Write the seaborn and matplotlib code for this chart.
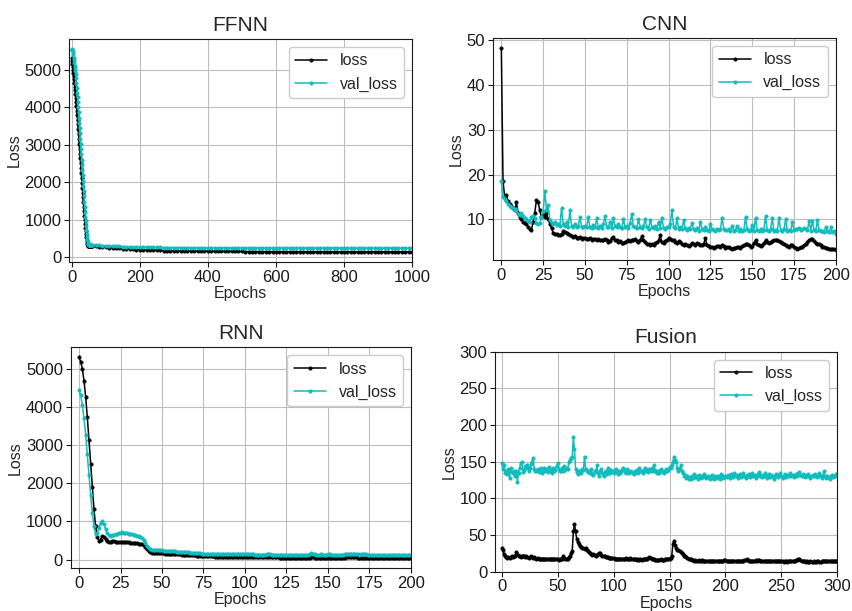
import matplotlib
matplotlib.use("Agg")
import matplotlib.pyplot as plt
import seaborn as sns

# ---------------- data ----------------
ffnn_epochs = list(range(0, 61)) + list(range(70, 1001, 10))
ffnn_loss = [5300, 5230, 5150, 5070, 4990, 4910, 4830, 4740, 4650, 4550,
             4450, 4350, 4240, 4130, 4020, 3900, 3780, 3660, 3540, 3410,
             3280, 3150, 3020, 2890, 2760, 2630, 2500, 2370, 2240, 2110,
             1980, 1850, 1720, 1590, 1460, 1340, 1220, 1100, 990, 880,
             780, 690, 600, 520, 450, 390, 340, 310, 295, 290,
             288, 287, 286, 285, 285, 284, 284, 283, 283, 282, 282,
             280, 272, 265, 258, 250, 243, 236, 229, 222, 216, 210, 204, 199, 194,
             190, 186, 182, 179, 176, 173, 170, 168, 166, 164,
             162, 160, 158, 157, 156, 155, 154, 153, 152, 151,
             150, 150, 149, 149, 148, 148, 147, 147, 146, 146,
             145, 145, 145, 144, 144, 144, 143, 143, 143, 142,
             142, 142, 141, 141, 141, 140, 140, 140, 140, 139,
             139, 139, 139, 138, 138, 138, 138, 137, 137, 137,
             137, 137, 136, 136, 136, 136, 136, 135, 135, 135,
             135, 135, 135, 134, 134, 134, 134, 134, 133, 133]
ffnn_val = [5530, 5545, 5530, 5500, 5450, 5390, 5320, 5250, 5180, 5110,
            5040, 4960, 4880, 4780, 4650, 4520, 4390, 4260, 4130, 4000,
            3860, 3720, 3580, 3440, 3300, 3160, 3020, 2880, 2740, 2600,
            2460, 2320, 2180, 2040, 1900, 1760, 1620, 1480, 1340, 1210,
            1080, 950, 830, 720, 620, 530, 450, 390, 350, 335,
            330, 328, 326, 325, 324, 323, 322, 321, 320, 319, 318,
            318, 312, 306, 301, 296, 291, 287, 283, 279, 275, 272, 269, 266, 263,
            261, 259, 257, 255, 254, 253, 252, 251, 250, 250,
            249, 249, 248, 248, 247, 247, 247, 246, 246, 246,
            245, 245, 245, 245, 244, 244, 244, 244, 243, 243,
            243, 243, 243, 242, 242, 242, 242, 242, 241, 241,
            241, 241, 241, 241, 240, 240, 240, 240, 240, 240,
            240, 239, 239, 239, 239, 239, 239, 239, 238, 238,
            238, 238, 238, 238, 238, 238, 237, 237, 237, 237,
            237, 237, 237, 237, 237, 236, 236, 236, 236, 236]

cnn_loss = [48.2, 18.6, 15.0, 15.5, 14.0, 13.5, 13.0, 12.5, 12.0, 13.8,
            11.5, 10.5, 10.0, 9.5, 9.3, 9.0, 8.3, 7.8, 7.6, 9.5,
            11.5, 14.3, 13.8, 12.0, 10.5, 11.0, 10.5, 11.5, 10.0, 9.0,
            8.0, 7.0, 6.8, 6.7, 6.6, 6.5, 6.7, 7.4, 7.2, 7.0,
            6.8, 6.6, 6.3, 6.0, 6.2, 5.8, 5.9, 6.1, 5.7, 5.8,
            5.9, 5.7, 5.6, 5.8, 5.5, 5.7, 5.6, 5.4, 5.6, 5.5,
            5.3, 5.5, 5.7, 5.4, 4.9, 5.2, 5.8, 6.1, 5.5, 5.3,
            5.0, 5.2, 4.7, 4.8, 5.0, 5.1, 5.4, 5.2, 5.5, 5.3,
            5.6, 5.2, 5.0, 5.4, 6.2, 5.3, 4.9, 4.6, 4.5, 4.3,
            4.5, 4.4, 4.7, 4.9, 5.3, 6.5, 5.0, 4.8, 5.2, 5.5,
            5.8, 5.6, 5.3, 5.5, 5.0, 4.8, 5.2, 5.0, 4.6, 4.3,
            4.5, 4.2, 4.0, 4.3, 4.8, 4.6, 4.4, 4.7, 4.5, 4.2,
            4.4, 4.6, 5.8, 4.3, 4.0, 3.8, 3.9, 3.7, 3.9, 4.1,
            4.0, 3.8, 4.3, 4.0, 3.7, 3.9, 3.8, 3.6, 3.5, 3.7,
            3.6, 3.8, 3.9, 3.7, 4.0, 4.2, 4.5, 4.6, 4.3, 3.9,
            4.1, 4.8, 5.3, 4.6, 4.2, 4.0, 4.4, 4.8, 5.3, 5.0,
            4.7, 4.9, 5.2, 5.5, 5.4, 5.3, 5.1, 4.9, 4.8, 4.6,
            4.3, 4.0, 3.9, 4.4, 4.2, 3.9, 3.6, 3.5, 3.7, 3.8,
            3.9, 4.2, 4.5, 4.9, 5.4, 5.6, 5.7, 5.2, 4.8, 4.5,
            4.6, 4.2, 3.9, 3.8, 3.6, 3.7, 3.5, 3.4, 3.5, 3.3,
            3.2]
cnn_val = [18.5, 15.0, 14.5, 14.0, 13.5, 13.0, 12.8, 12.5, 12.0, 12.4,
           11.2, 11.0, 11.5, 10.8, 10.4, 10.0, 9.6, 9.4, 10.6, 10.8,
           10.2, 9.3, 9.0, 9.2, 10.5, 11.8, 16.3, 12.0, 13.3, 9.8,
           9.2, 9.0, 9.4, 8.8, 9.0, 8.6, 12.5, 9.0, 8.5, 9.5,
           8.4, 12.0, 8.6, 8.3, 9.0, 8.2, 8.5, 10.5, 8.4, 8.2,
           8.6, 8.3, 10.5, 8.2, 8.0, 8.8, 8.3, 10.2, 8.0, 8.5,
           8.1, 9.0, 10.7, 8.4, 8.2, 9.5, 8.0, 10.2, 8.5, 8.3,
           9.0, 8.2, 8.0, 10.0, 8.4, 8.6, 8.1, 9.2, 11.3, 8.5,
           8.3, 8.1, 10.0, 8.4, 8.0, 8.6, 10.0, 8.2, 7.9, 9.8,
           8.3, 8.0, 8.5, 7.9, 9.5, 8.1, 10.4, 8.0, 7.8, 8.4,
           8.2, 9.0, 12.0, 8.3, 8.0, 10.3, 7.9, 8.2, 7.8, 9.8,
           8.0, 7.7, 8.1, 7.9, 9.2, 7.8, 7.6, 8.0, 7.5, 9.4,
           7.8, 7.6, 8.3, 7.7, 7.5, 9.0, 7.8, 7.6, 7.4, 7.9,
           7.6, 7.8, 10.4, 7.9, 7.7, 7.6, 7.8, 7.5, 8.5, 7.4,
           7.6, 8.6, 7.5, 7.8, 7.4, 7.6, 10.5, 7.8, 7.5, 7.6,
           8.7, 7.5, 10.4, 7.6, 7.4, 7.8, 7.5, 7.7, 10.8, 7.6,
           7.4, 7.8, 10.3, 7.5, 7.6, 7.4, 10.4, 7.6, 7.5, 7.8,
           10.0, 7.5, 7.7, 7.4, 9.4, 7.6, 7.8, 7.9, 8.0, 7.7,
           7.9, 8.0, 7.8, 7.6, 9.6, 7.5, 9.6, 7.7, 7.4, 9.8,
           7.6, 7.3, 7.5, 7.2, 8.3, 7.4, 7.2, 8.2, 7.1, 7.3,
           6.8]

rnn_loss = [5300, 5190, 5000, 4690, 4270, 3730, 3130, 2510, 1890, 1330,
            870, 600, 490, 520, 620, 580, 530, 490, 460, 470,
            480, 475, 470, 465, 460, 462, 458, 455, 452, 450,
            448, 445, 440, 435, 430, 425, 418, 410, 395, 370,
            330, 280, 230, 195, 180, 175, 172, 170, 168, 165,
            162, 160, 157, 155, 152, 150, 148, 145, 142, 140,
            137, 135, 132, 130, 127, 124, 121, 118, 115, 112,
            108, 105, 102, 99, 96, 93, 90, 88, 86, 84,
            82, 80, 79, 78, 77, 76, 75, 74, 73, 72,
            71, 70, 70, 69, 68, 68, 67, 66, 66, 65,
            65, 64, 66, 63, 62, 62, 61, 60, 60, 59,
            59, 58, 58, 60, 57, 56, 56, 55, 55, 54,
            54, 53, 53, 52, 52, 51, 51, 50, 50, 49,
            49, 48, 48, 48, 47, 47, 46, 46, 47, 52,
            60, 55, 48, 46, 45, 45, 44, 44, 43, 43,
            43, 42, 42, 42, 41, 41, 41, 42, 44, 47,
            50, 54, 58, 60, 59, 56, 60, 55, 50, 47,
            45, 48, 52, 50, 46, 43, 42, 41, 40, 40,
            39, 39, 38, 38, 38, 37, 37, 37, 36, 36,
            36, 37, 38, 37, 36, 35, 35, 35, 34, 34,
            34]
rnn_val = [4450, 4300, 4050, 3700, 3270, 2760, 2220, 1700, 1230, 870,
           660, 700, 820, 950, 1000, 930, 800, 690, 640, 630,
           640, 650, 665, 680, 695, 705, 710, 705, 700, 690,
           680, 670, 660, 650, 640, 625, 610, 590, 560, 510,
           440, 360, 300, 265, 255, 250, 252, 255, 248, 242,
           238, 235, 232, 228, 225, 222, 218, 215, 212, 208,
           205, 202, 198, 195, 192, 188, 185, 181, 178, 174,
           170, 166, 163, 160, 157, 155, 153, 151, 150, 148,
           147, 146, 145, 144, 143, 142, 141, 140, 140, 139,
           138, 138, 137, 137, 136, 136, 135, 135, 134, 134,
           133, 135, 140, 155, 142, 134, 132, 132, 131, 131,
           130, 130, 132, 145, 150, 138, 130, 129, 129, 128,
           128, 128, 127, 127, 127, 126, 126, 126, 125, 125,
           125, 124, 124, 124, 123, 123, 123, 124, 130, 150,
           165, 155, 138, 126, 124, 125, 140, 132, 124, 122,
           140, 135, 124, 122, 121, 121, 120, 122, 126, 132,
           138, 145, 152, 158, 150, 142, 155, 148, 136, 128,
           135, 148, 150, 140, 130, 124, 122, 121, 120, 120,
           119, 119, 118, 118, 120, 126, 122, 118, 117, 117,
           118, 124, 130, 125, 119, 117, 116, 116, 115, 115,
           115]

fusion_loss = [32, 30, 24, 21, 20, 19, 20, 19, 20, 21,
               20, 21, 22, 27, 24, 22, 21, 20, 21, 22,
               21, 20, 21, 20, 19, 20, 21, 20, 19, 20,
               19, 18, 19, 18, 18, 17, 18, 18, 17, 18,
               18, 17, 18, 17, 18, 18, 17, 17, 18, 17,
               17, 16, 17, 18, 17, 22, 19, 18, 18, 18,
               20, 22, 25, 28, 55, 65, 55, 45, 40, 38,
               35, 34, 33, 32, 31, 32, 30, 28, 27, 26,
               24, 23, 24, 23, 22, 23, 24, 25, 25, 23,
               22, 21, 21, 20, 20, 20, 19, 19, 19, 19,
               19, 18, 18, 18, 18, 18, 18, 17, 18, 18,
               18, 19, 18, 17, 18, 19, 18, 17, 17, 17,
               17, 16, 17, 16, 17, 16, 17, 17, 17, 18,
               18, 19, 20, 19, 18, 17, 17, 16, 16, 16,
               16, 16, 17, 16, 16, 16, 17, 17, 17, 18,
               18, 19, 22, 38, 42, 36, 32, 30, 29, 28,
               27, 25, 24, 22, 21, 20, 19, 18, 17, 17,
               16, 16, 15, 16, 15, 15, 16, 15, 15, 16,
               15, 15, 14, 15, 15, 14, 15, 14, 14, 15,
               14, 14, 15, 14, 14, 15, 14, 15, 15, 16,
               16, 15, 15, 14, 15, 15, 14, 14, 15, 14,
               15, 14, 15, 14, 15, 15, 15, 16, 16, 17,
               16, 15, 15, 14, 15, 15, 15, 16, 15, 16,
               16, 15, 15, 14, 14, 14, 15, 14, 14, 14,
               14, 14, 15, 14, 14, 15, 15, 15, 15, 15,
               14, 14, 13, 14, 14, 13, 14, 14, 14, 15,
               15, 15, 15, 16, 16, 17, 17, 16, 15, 15,
               14, 14, 13, 14, 13, 13, 14, 13, 13, 14,
               13, 13, 14, 14, 13, 13, 14, 14, 15, 14,
               14, 14, 14, 15, 14, 14, 15, 14, 15, 15,
               15]
fusion_val = [148, 140, 146, 135, 138, 133, 140, 128, 141, 136,
              134, 137, 130, 138, 122, 135, 142, 148, 150, 136,
              139, 144, 141, 145, 138, 142, 147, 150, 155, 140,
              138, 137, 140, 136, 139, 141, 135, 138, 142, 137,
              140, 136, 143, 138, 140, 135, 142, 137, 139, 144,
              148, 140, 138, 137, 142, 137, 144, 139, 141, 140,
              150, 152, 155, 157, 183, 168, 140, 136, 133, 137,
              138, 135, 140, 139, 157, 140, 138, 136, 137, 135,
              140, 133, 132, 138, 136, 145, 134, 131, 137, 140,
              135, 130, 136, 138, 133, 141, 136, 134, 139, 137,
              135, 138, 140, 136, 133, 138, 135, 137, 142, 139,
              136, 135, 140, 137, 134, 136, 138, 135, 133, 137,
              136, 139, 135, 141, 137, 138, 135, 139, 142, 137,
              139, 136, 140, 138, 141, 137, 145, 139, 136, 134,
              138, 135, 140, 137, 136, 135, 138, 140, 137, 139,
              143, 141, 146, 150, 157, 152, 150, 141, 138, 140,
              145, 137, 135, 130, 132, 128, 131, 126, 129, 127,
              131, 128, 133, 129, 130, 127, 132, 130, 128, 131,
              129, 133, 130, 128, 131, 129, 127, 130, 132, 128,
              126, 130, 128, 131, 129, 127, 133, 130, 128, 129,
              131, 129, 132, 130, 128, 133, 131, 129, 134, 130,
              132, 128, 131, 133, 129, 130, 134, 131, 128, 132,
              130, 133, 129, 131, 135, 130, 132, 128, 131, 133,
              136, 130, 132, 129, 131, 134, 130, 128, 131, 133,
              129, 132, 130, 127, 131, 133, 130, 129, 132, 134,
              130, 128, 131, 133, 129, 130, 132, 131, 134, 130,
              132, 129, 131, 133, 130, 134, 136, 132, 130, 133,
              131, 129, 132, 130, 133, 131, 128, 130, 132, 131,
              133, 130, 129, 131, 134, 130, 128, 131, 137, 130,
              128, 131, 129, 127, 130, 132, 129, 131, 130, 133,
              133]

titles = ["FFNN", "CNN", "RNN", "Fusion"]
series_names = ["loss", "val_loss"]

# ---------------- style ----------------
sns.set_style("whitegrid", rc={
    "axes.edgecolor": "0.1",
    "axes.linewidth": 1.0,
    "grid.color": "0.74",
    "grid.linewidth": 1.0,
    "xtick.bottom": True,
    "ytick.left": True,
    "xtick.color": "0.1",
    "ytick.color": "0.1",
    "xtick.major.size": 3.5,
    "ytick.major.size": 3.5,
})
plt.rcParams["font.family"] = ["Liberation Sans", "DejaVu Sans"]

fig = plt.figure(figsize=(8.52, 6.11), dpi=100)
positions = [
    [0.081, 0.571, 0.4026, 0.365],
    [0.5786, 0.5745, 0.4024, 0.3635],
    [0.083, 0.0699, 0.3993, 0.3617],
    [0.581, 0.0643, 0.4018, 0.3601],
]
axes = [fig.add_axes(p) for p in positions]

panels = [
    (ffnn_epochs, ffnn_loss, ffnn_val),
    (list(range(len(cnn_loss))), cnn_loss, cnn_val),
    (list(range(len(rnn_loss))), rnn_loss, rnn_val),
    (list(range(len(fusion_loss))), fusion_loss, fusion_val),
]
colors = ["black", "#10bcbc"]

for ax, title, (ep, lo, va) in zip(axes, titles, panels):
    for name, ys, col in zip(series_names, (lo, va), colors):
        sns.lineplot(x=ep, y=ys, ax=ax, color=col, marker=".", markersize=4.8,
                     markeredgecolor=col, markeredgewidth=0.5, linewidth=1.1,
                     label=name)
    ax.set_title(title, fontsize=15)
    ax.set_xlabel("Epochs", fontsize=11.5, labelpad=1)
    ax.set_ylabel("Loss", fontsize=11.5, labelpad=2)
    ax.tick_params(labelsize=12, pad=2)
    ax.legend(loc="upper right", fontsize=11.5, frameon=True, edgecolor="0.8",
              fancybox=True, framealpha=1.0)

axes[0].set_xlim(-8, 1000)
axes[0].set_xticks([0, 200, 400, 600, 800, 1000])
axes[0].set_yticks([0, 1000, 2000, 3000, 4000, 5000])
axes[1].set_xlim(-5, 200)
axes[1].set_xticks([0, 25, 50, 75, 100, 125, 150, 175, 200])
axes[1].set_yticks([10, 20, 30, 40, 50])
axes[2].set_xlim(-5, 200)
axes[2].set_xticks([0, 25, 50, 75, 100, 125, 150, 175, 200])
axes[2].set_yticks([0, 1000, 2000, 3000, 4000, 5000])
axes[3].set_xlim(-6, 300)
axes[3].set_ylim(0, 300)
axes[3].set_xticks([0, 50, 100, 150, 200, 250, 300])

fig.savefig("out.png", dpi=100)
